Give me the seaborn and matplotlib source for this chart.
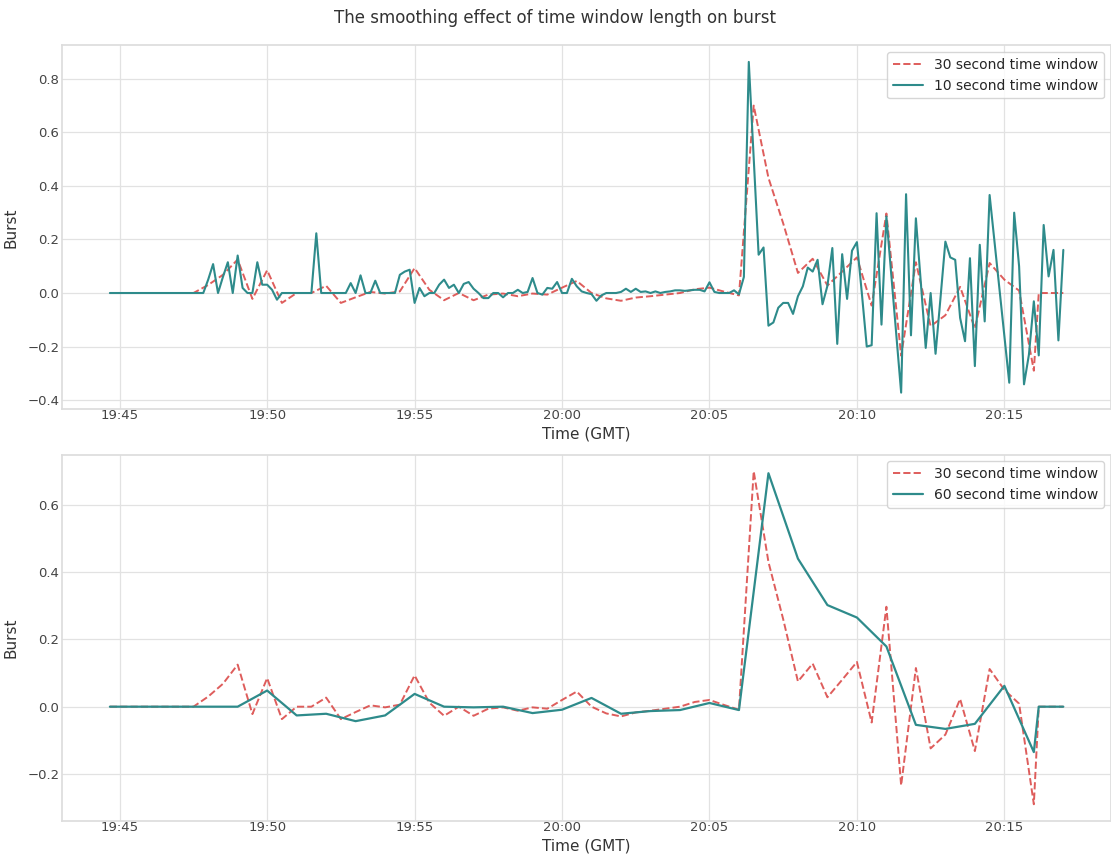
import pandas as pd
import numpy as np
import matplotlib
matplotlib.use("Agg")
import matplotlib.pyplot as plt
import matplotlib.dates as mdates
import seaborn as sns

DAY = "2020-01-01 "

# ---- 10 second window (19:44:40 .. 20:17:00, every 10 s) ----
w10_start, w10_end, w10_step = "19:44:40", "20:17:00", "10s"
w10_values = [
    0.0, 0.0,                                        # 19:44:40, 19:44:50
    0.0, 0.0, 0.0, 0.0, 0.0, 0.0,                    # 19:45
    0.0, 0.0, 0.0, 0.0, 0.0, 0.0,                    # 19:46
    0.0, 0.0, 0.0, 0.0, 0.0, 0.0,                    # 19:47
    0.05, 0.108, 0.0, 0.06, 0.115, 0.0,              # 19:48
    0.14, 0.019, 0.0, 0.0, 0.115, 0.031,             # 19:49
    0.031, 0.012, -0.025, 0.0, 0.0, 0.0,             # 19:50
    0.0, 0.0, 0.0, 0.0, 0.223, 0.0,                  # 19:51
    0.0, 0.0, 0.0, 0.0, 0.0, 0.037,                  # 19:52
    0.0, 0.066, 0.0, 0.0, 0.046, 0.0,                # 19:53
    0.0, 0.0, 0.0, 0.068, 0.08, 0.087,               # 19:54
    -0.037, 0.019, -0.012, 0.0, 0.0, 0.031,          # 19:55
    0.05, 0.019, 0.031, 0.0, 0.034, 0.041,           # 19:56
    0.016, 0.0, -0.019, -0.019, 0.0, 0.0,            # 19:57
    -0.016, 0.0, 0.0, 0.012, 0.0, 0.004,            # 19:58
    0.056, 0.0, -0.006, 0.019, 0.016, 0.041,         # 19:59
    0.0, 0.0, 0.053, 0.025, 0.006, 0.0,              # 20:00
    -0.004, -0.029, -0.009, 0.0, 0.0, 0.0,           # 20:01
    0.004, 0.016, 0.004, 0.016, 0.004, 0.006,        # 20:02
    0.0, 0.006, 0.0, 0.004, 0.006, 0.01,             # 20:03
    0.01, 0.008, 0.01, 0.012, 0.012, 0.006,          # 20:04
    0.04, 0.004, 0.0, 0.0, 0.0, 0.01,                # 20:05
    -0.005, 0.06, 0.863, 0.5, 0.143, 0.17,           # 20:06
    -0.122, -0.11, -0.055, -0.037, -0.037, -0.078,   # 20:07
    -0.012, 0.025, 0.095, 0.08, 0.124, -0.042,       # 20:08
    0.027, 0.168, -0.19, 0.145, -0.022, 0.158,       # 20:09
    0.19, 0.0, -0.2, -0.195, 0.298, -0.118,          # 20:10
    0.286, 0.067, -0.153, -0.372, 0.369, -0.158,     # 20:11
    0.279, 0.04, -0.205, 0.0, -0.227, -0.02,         # 20:12
    0.192, 0.133, 0.124, -0.093, -0.18, 0.13,        # 20:13
    -0.273, 0.18, -0.106, 0.366, 0.19, 0.015,        # 20:14
    -0.16, -0.335, 0.3, 0.1, -0.341, -0.23,          # 20:15
    -0.031, -0.233, 0.254, 0.062, 0.161, -0.177,     # 20:16
    0.161,                                           # 20:17
]

# ---- 30 second window (19:45:00 .. 20:16:00 every 30 s, plus padding) ----
w30_head_times = ["19:44:40"]
w30_head_values = [0.0]
w30_start, w30_end, w30_step = "19:45:00", "20:16:00", "30s"
w30_values = [
    0.0, 0.0,        # 19:45
    0.0, 0.0,        # 19:46
    0.0, 0.0,        # 19:47
    0.03, 0.068,     # 19:48
    0.125, -0.022,   # 19:49
    0.085, -0.037,   # 19:50
    0.0, 0.0,        # 19:51
    0.027, -0.037,   # 19:52
    -0.016, 0.004,   # 19:53
    -0.002, 0.006,   # 19:54
    0.093, 0.012,    # 19:55
    -0.027, 0.0,     # 19:56
    -0.027, -0.006,  # 19:57
    -0.002, -0.012,  # 19:58
    -0.002, -0.006,  # 19:59
    0.02, 0.045,     # 20:00
    0.0, -0.02,      # 20:01
    -0.029, -0.017,  # 20:02
    -0.012, -0.006,  # 20:03
    0.0, 0.014,      # 20:04
    0.02, 0.005,     # 20:05
    -0.009, 0.70,    # 20:06
    0.43, 0.26,      # 20:07
    0.075, 0.128,    # 20:08
    0.028, 0.08,     # 20:09
    0.133, -0.047,   # 20:10
    0.297, -0.234,   # 20:11
    0.115, -0.124,   # 20:12
    -0.083, 0.023,   # 20:13
    -0.132, 0.112,   # 20:14
    0.05, 0.009,     # 20:15
    -0.29,           # 20:16
]
w30_tail_times = ["20:16:10", "20:17:00"]
w30_tail_values = [0.0, 0.0]

# ---- 60 second window (19:45 .. 20:16 every minute, plus padding) ----
w60_head_times = ["19:44:40"]
w60_head_values = [0.0]
w60_start, w60_end, w60_step = "19:45:00", "20:16:00", "60s"
w60_values = [
    0.0, 0.0, 0.0, 0.0, 0.0,                # 19:45 - 19:49
    0.048, -0.026, -0.021, -0.043, -0.026,  # 19:50 - 19:54
    0.038, 0.0, -0.002, 0.0, -0.019,        # 19:55 - 19:59
    -0.009, 0.026, -0.021, -0.013, -0.01,   # 20:00 - 20:04
    0.011, -0.01, 0.694, 0.44, 0.302,       # 20:05 - 20:09
    0.265, 0.179, -0.054, -0.066, -0.051,   # 20:10 - 20:14
    0.062, -0.135,                          # 20:15 - 20:16
]
w60_tail_times = ["20:16:10", "20:17:00"]
w60_tail_values = [0.0, 0.0]


def ts(strings):
    return pd.to_datetime([DAY + s for s in strings])


def build(head_t, head_v, start, end, step, vals, tail_t, tail_v):
    t = ts(head_t).append(pd.date_range(DAY + start, DAY + end, freq=step)).append(ts(tail_t))
    v = list(head_v) + list(vals) + list(tail_v)
    return pd.DataFrame({"time": t, "burst": v})


df10 = pd.DataFrame({"time": pd.date_range(DAY + w10_start, DAY + w10_end, freq=w10_step),
                     "burst": w10_values})
df30 = build(w30_head_times, w30_head_values, w30_start, w30_end, w30_step,
             w30_values, w30_tail_times, w30_tail_values)
df60 = build(w60_head_times, w60_head_values, w60_start, w60_end, w60_step,
             w60_values, w60_tail_times, w60_tail_values)

sns.set_theme(style="whitegrid", rc={"grid.color": "#e2e2e2", "grid.linewidth": 0.9})
plt.rcParams["font.family"] = ["DejaVu Sans"]

RED = "#d9413f"
TEAL = "#2e8b8b"

fig = plt.figure(figsize=(11.11, 8.56), dpi=100)
ax1 = fig.add_axes([0.056, 0.522, 0.944, 0.425])
ax2 = fig.add_axes([0.056, 0.041, 0.944, 0.428])

sns.lineplot(data=df30, x="time", y="burst", ax=ax1, color=RED, linestyle="--",
             linewidth=1.4, alpha=0.85, label="30 second time window")
sns.lineplot(data=df10, x="time", y="burst", ax=ax1, color=TEAL,
             linewidth=1.5, label="10 second time window")

sns.lineplot(data=df30, x="time", y="burst", ax=ax2, color=RED, linestyle="--",
             linewidth=1.4, alpha=0.85, label="30 second time window")
sns.lineplot(data=df60, x="time", y="burst", ax=ax2, color=TEAL,
             linewidth=1.6, label="60 second time window")

for ax in (ax1, ax2):
    ax.xaxis.set_major_locator(mdates.MinuteLocator(byminute=range(0, 60, 5)))
    ax.xaxis.set_major_formatter(mdates.DateFormatter("%H:%M"))
    ax.set_xlabel("Time (GMT)", fontsize=11, color="#333333")
    ax.set_ylabel("Burst", fontsize=11, color="#333333")
    ax.xaxis.set_label_coords(0.5, -0.049)
    ax.yaxis.set_label_coords(-0.042, 0.5)
    ax.tick_params(axis="both", length=0, labelsize=9.5, colors="#444444", pad=0)
    ax.tick_params(axis="y", pad=2)
    ax.legend(loc="upper right", fontsize=10, frameon=True, handlelength=2.2)
    ax.margins(x=0.05, y=0.05)
    for s in ax.spines.values():
        s.set_color("#dddddd")

ax1.set_yticks([-0.4, -0.2, 0.0, 0.2, 0.4, 0.6, 0.8])
ax2.set_yticks([-0.2, 0.0, 0.2, 0.4, 0.6])

fig.suptitle("The smoothing effect of time window length on burst", fontsize=12,
             y=0.99, color="#333333")

fig.savefig("out.png", dpi=100)
